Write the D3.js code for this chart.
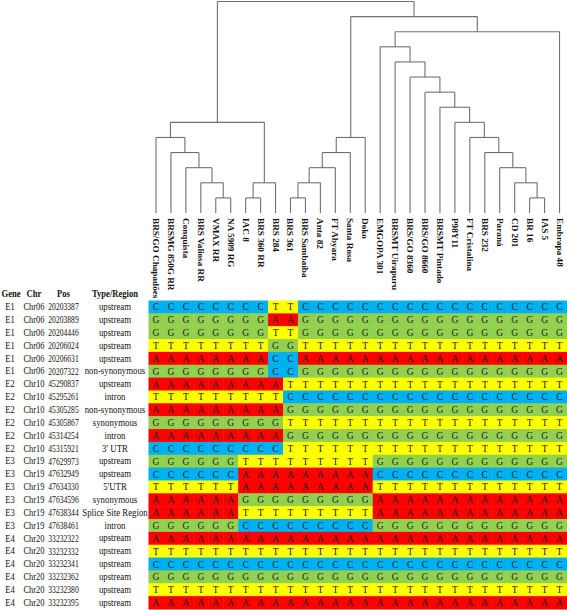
<!DOCTYPE html>
<html><head><meta charset="utf-8">
<script src="https://cdn.jsdelivr.net/npm/d3@7"></script>
<style>body{margin:0;background:#fff}svg{display:block}</style>
</head><body>
<svg id="chart" width="567" height="610"></svg>
<script>
// ---------- DATA ----------
const cultivars = ["BRS/GO Chapadões","BRSMG 850G RR","Conquista","BRS Valiosa RR","VMAX RR","NA 5909 RG","IAC 8","BRS 360 RR","BRS 284","BRS 361","BRS Sambaíba","Anta 82","FT Abyara","Santa Rosa","Doko","EMGOPA 301","BRSMT Uirapuru","BRS/GO 8360","BRS/GO 8660","BRSMT Pintado","P98Y11","FT Cristalina","BRS 232","Paraná","CD 201","BR 16","IAS 5","Embrapa 48"];

const headers = ["Gene","Chr","Pos","Type/Region"];
const genes = ["E1","E1","E1","E1","E1","E1","E2","E2","E2","E2","E2","E2","E3","E3","E3","E3","E3","E3","E4","E4","E4","E4","E4","E4"];
const chromosomes = ["Chr06","Chr06","Chr06","Chr06","Chr06","Chr06","Chr10","Chr10","Chr10","Chr10","Chr10","Chr10","Chr19","Chr19","Chr19","Chr19","Chr19","Chr19","Chr20","Chr20","Chr20","Chr20","Chr20","Chr20"];
const positions = ["20203387","20203889","20204446","20206024","20206631","20207322","45290837","45295261","45305285","45305867","45314254","45315921","47629973","47632949","47634330","47634596","47638344","47638461","33232322","33232332","33232341","33232362","33232380","33232395"];
const regions = ["upstream","upstream","upstream","upstream","upstream","non-synonymous","upstream","intron","non-synonymous","synonymous","intron","3' UTR","upstream","upstream","5'UTR","synonymous","Splice Site Region","intron","upstream","upstream","upstream","upstream","upstream","upstream"];
const genotypes = [
 "CCCCCCCCTTCCCCCCCCCCCCCCCCCC",
 "GGGGGGGGAAGGGGGGGGGGGGGGGGGG",
 "GGGGGGGGTTGGGGGGGGGGGGGGGGGG",
 "TTTTTTTTGGTTTTTTTTTTTTTTTTTT",
 "AAAAAAAACCAAAAAAAAAAAAAAAAAA",
 "GGGGGGGGCCGGGGGGGGGGGGGGGGGG",
 "AAAAAAAAATTTTTTTTTTTTTTTTTTT",
 "TTTTTTTTTCCCCCCCCCCCCCCCCCCC",
 "AAAAAAAAAGGGGGGGGGGGGGGGGGGG",
 "GGGGGGGGGTTTTTTTTTTTTTTTTTTT",
 "AAAAAAAAAGGGGGGGGGGGGGGGGGGG",
 "CCCCCCCCCTTTTTTTTTTTTTTTTTTT",
 "GGGGGGTTTTTTTTTGGGGGGGGGGGGG",
 "CCCCCCAAAAAAAAACCCCCCCCCCCCC",
 "TTTTTTAAAAAAAAATTTTTTTTTTTTT",
 "AAAAAAGGGGGGGGGAAAAAAAAAAAAA",
 "AAAAAATTTTTTTTTAAAAAAAAAAAAA",
 "GGGGGGCCCCCCCCCGGGGGGGGGGGGG",
 "AAAAAAAAAAAAAAAAAAAAAAAAAAAA",
 "TTTTTTTTTTTTTTTTTTTTTTTTTTTT",
 "CCCCCCCCCCCCCCCCCCCCCCCCCCCC",
 "GGGGGGGGGGGGGGGGGGGGGGGGGGGG",
 "TTTTTTTTTTTTTTTTTTTTTTTTTTTT",
 "AAAAAAAAAAAAAAAAAAAAAAAAAAAA"
];
const bases = ["A","C","G","T"];
const baseColors = ["#ff0000","#00b0f0","#92d050","#ffff00"];

// dendrogram: [mergeHeight, left, right]
const tree = [14,
  [6,
    [5,"BRS/GO Chapadões",[4,"BRSMG 850G RR",[3,"Conquista",[2,"BRS Valiosa RR",[1,"VMAX RR","NA 5909 RG"]]]]],
    [2,[1,"IAC 8","BRS 360 RR"],"BRS 284"]],
  [13,
    [5,[4,[3,[2,[1,"BRS 361","BRS Sambaíba"],"Anta 82"],"FT Abyara"],"Santa Rosa"],"Doko"],
    [12,
      [11,"EMGOPA 301",[10,"BRSMT Uirapuru",[9,"BRS/GO 8360",[8,"BRS/GO 8660",[7,"BRSMT Pintado",[6,"P98Y11",[5,"FT Cristalina",[4,"BRS 232",[3,"Paraná",[2,"CD 201",[1,"BR 16","IAS 5"]]]]]]]]]]],
      "Embrapa 48"]]];

// ---------- LAYOUT ----------
const svg = d3.select("#chart");
const serif = "'Liberation Serif','Times New Roman',serif";
const gridLeft = 148.5, gridRight = 567, gridTop = 300.5, gridBottom = 609;

const x = d3.scaleBand().domain(cultivars).range([gridLeft, gridRight]).padding(0);
const rowIdx = d3.range(genotypes.length);
const y = d3.scaleBand().domain(rowIdx).range([gridTop, gridBottom]).padding(0);
const color = d3.scaleOrdinal().domain(bases).range(baseColors);
const hY = d3.scaleLinear().domain([0,14]).range([213, 1.5]);

// ---------- DENDROGRAM ----------
const root = d3.hierarchy(tree, d => Array.isArray(d) ? d.slice(1) : null);
root.eachAfter(n => {
  if (n.children) {
    n.px = (n.children[0].px + n.children[n.children.length-1].px) / 2;
    n.py = hY(n.data[0]);
  } else {
    n.px = x(n.data) + x.bandwidth()/2;
    n.py = hY(0);
  }
});
const dg = svg.append("g").attr("stroke","#707070").attr("stroke-width",1.1).attr("fill","none");
root.each(n => {
  if (!n.children) return;
  const c = n.children;
  dg.append("line").attr("x1",c[0].px).attr("x2",c[c.length-1].px).attr("y1",n.py).attr("y2",n.py);
  c.forEach(ch => dg.append("line").attr("x1",ch.px).attr("x2",ch.px).attr("y1",n.py).attr("y2",ch.py));
});

// leaf labels
svg.append("g").selectAll("text").data(cultivars).join("text")
  .attr("transform", d => `translate(${x(d)+x.bandwidth()/2},218) rotate(90)`)
  .attr("dominant-baseline","central")
  .attr("font-family", serif).attr("font-weight","bold").attr("font-size", 9.2)
  .attr("fill","#111")
  .text(d => d);

// ---------- GRID ----------
const cells = [];
genotypes.forEach((row, r) => row.split("").forEach((b, c) => cells.push({r, c: cultivars[c], b})));
const grid = svg.append("g");
grid.selectAll("rect").data(cells).join("rect")
  .attr("x", d => x(d.c)).attr("y", d => y(d.r))
  .attr("width", x.bandwidth()+0.5).attr("height", y.bandwidth()+0.5)
  .attr("fill", d => color(d.b));
grid.selectAll("text").data(cells).join("text")
  .attr("x", d => x(d.c)+x.bandwidth()/2).attr("y", d => y(d.r)+y.bandwidth()/2+0.5)
  .attr("text-anchor","middle").attr("dominant-baseline","central")
  .attr("font-family", serif).attr("font-size", 9.5).attr("fill","#222")
  .text(d => d.b);

// ---------- ROW LABELS ----------
const colX = [10, 34, 63.5, 115];
const colScale = [0.86, 0.84, 0.76, 0.88];
const labelCols = [genes, chromosomes, positions, regions];
const lg = svg.append("g").attr("font-family", serif).attr("font-size", 10).attr("fill","#111");
labelCols.forEach((arr, i) => {
  lg.selectAll(null).data(arr).join("text")
    .attr("transform", (d, r) => `translate(${colX[i]},${y(r)+y.bandwidth()/2}) scale(${colScale[i]},1)`)
    .attr("text-anchor","middle").attr("dominant-baseline","central")
    .text(d => d);
});
svg.append("g").attr("font-family", serif).attr("font-size", 10).attr("font-weight","bold").attr("fill","#111")
  .selectAll("text").data(headers).join("text")
  .attr("transform", (d, i) => `translate(${colX[i] + (i===0?1:0)},${gridTop - 7}) scale(0.86,1)`)
  .attr("text-anchor","middle").attr("dominant-baseline","central")
  .text(d => d);
</script>
</body></html>
